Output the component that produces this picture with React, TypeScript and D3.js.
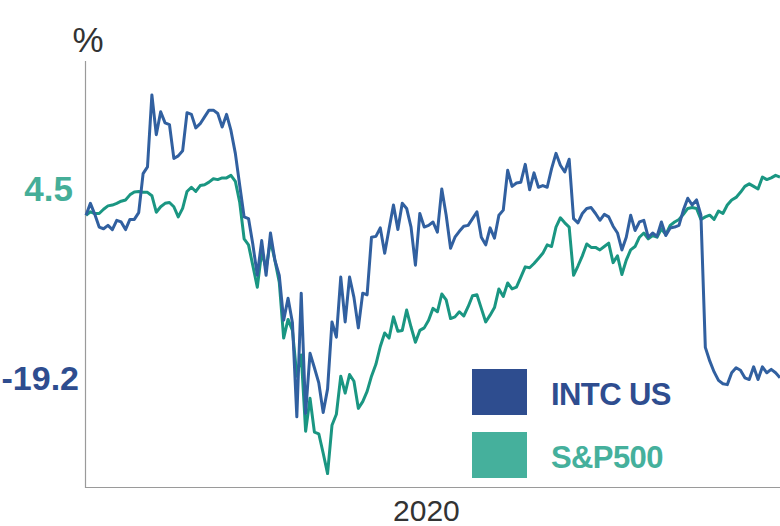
import React, { useRef, useEffect } from 'react';
import * as d3 from 'd3';

// daily % change since first trading day of 2020
const intcPct = [
  0.0, 1.4, 0.1, -1.4, -1.6, -1.2, -1.7, -0.6, -0.8, -1.7,
  -0.5, -0.5, 0.3, 4.9, 5.7, 14.2, 9.5, 12.2, 10.9, 10.7,
  6.7, 7.0, 7.6, 12.1, 11.9, 10.3, 10.8, 11.6, 12.4, 12.4,
  12.0, 10.4, 11.9, 10.0, 7.3, 3.5, -0.2, -0.4, -3.5, -7.1,
  -3.0, -7.1, -2.1, -5.3, -7.1, -12.4, -9.8, -12.7, -23.8, -9.2,
  -23.4, -16.3, -18.0, -19.8, -23.3, -20.5, -12.6, -14.4, -7.3, -12.6,
  -7.3, -9.7, -13.3, -9.2, -9.4, -2.6, -2.5, -1.5, -4.5, -1.6,
  1.2, -1.7, 1.4, 0.8, -1.4, -5.9, 0.2, -1.4, -1.2, -0.8,
  -2.0, 3.1, 0.0, -3.9, -2.6, -1.9, -1.3, -1.2, -0.4, 0.4,
  -2.6, -3.5, -1.5, -2.7, 0.0, 0.6, 5.3, 3.4, 3.8, 3.9,
  6.0, 3.0, 5.0, 3.3, 3.5, 3.3, 5.5, 7.3, 5.9, 5.1,
  6.6, -0.4, -0.9, 0.2, 0.8, 0.9, 0.2, -0.6, 0.1, -0.2,
  -1.3, -2.1, -4.1, -2.6, 0.0, -1.8, -0.8, -0.6, -2.6, -2.1,
  -2.5, -0.8, -2.4, -1.5, -1.4, -1.2, 0.6, 2.0, 1.2, 1.8,
  0.0, -15.6, -17.2, -18.5, -19.5, -19.9, -20.0, -18.6, -18.0, -18.3,
  -19.2, -19.4, -17.9, -19.4, -17.9, -18.6, -18.2, -18.6, -19.2,
];

const spxPct = [
  0.0, 0.4, 0.2, 0.2, 0.7, 1.1, 1.2, 1.4, 1.65, 1.8,
  2.4, 2.75, 2.8, 2.7, 2.7, 2.3, 0.35, 1.0, 1.4, 1.5,
  1.0, -0.2, 0.8, 2.8, 3.3, 2.8, 3.5, 3.6, 3.9, 4.3,
  4.2, 4.4, 4.4, 4.7, 4.0, 1.5, -2.8, -3.5, -6.0, -8.5,
  -4.3, -6.3, -3.0, -5.3, -7.9, -14.5, -12.3, -13.6, -19.0, -16.5,
  -25.5, -21.6, -25.6, -25.8, -28.1, -30.5, -24.8, -23.5, -19.0, -21.0,
  -18.8, -19.6, -22.8, -22.0, -20.8, -19.0, -17.6, -15.5, -13.9, -14.5,
  -12.0, -13.7, -13.6, -11.2, -13.2, -15.0, -13.6, -13.3, -12.4, -11.0,
  -11.4, -9.3, -10.0, -12.2, -12.0, -11.4, -11.9, -10.8, -9.5, -9.4,
  -11.0, -12.6, -11.8, -10.9, -8.7, -9.6, -8.0, -8.7, -8.5, -7.3,
  -6.1, -6.2, -5.7, -5.1, -4.5, -3.5, -3.7, -1.4, -0.3, -0.9,
  -1.4, -7.1, -6.0, -4.8, -3.4, -3.8, -3.8, -4.1, -3.7, -3.3,
  -5.6, -4.8, -7.0, -5.3, -4.1, -3.7, -2.6, -2.1, -2.8, -2.4,
  -2.6, -1.6, -2.3, -1.2, -0.8, -0.5, 0.1, 0.8, 0.9, 0.8,
  -0.5, -0.2, 0.0, -0.5, 0.5, 0.2, 1.2, 1.8, 2.1, 2.7,
  3.4, 3.7, 3.4, 3.1, 4.5, 4.2, 4.4, 4.7, 4.5,
];

const seriesNames = ['INTC US', 'S&P500'];
const lineColors = ['#3160a0', '#1a9682'];
const labelColors = ['#2e4d8f', '#45ae98'];
const xTickLabel = '2020';
const xTickDay = 77.5;

const App = () => {
  const svgRef = useRef(null);

  useEffect(() => {
    const svg = d3.select(svgRef.current);
    svg.selectAll('*').remove();

    const width = 780;
    const left = 86;
    const top = 61;
    const bottom = 488;
    const font = '"Liberation Sans", Arial, Helvetica, sans-serif';

    const x = d3.scaleLinear().domain([0, intcPct.length - 1]).range([left, width]);
    const y = d3.scaleLinear().domain([-32.2, 18.2]).range([bottom, top]);

    // axes (just the lines)
    svg.append('line')
      .attr('x1', left - 0.5).attr('x2', left - 0.5)
      .attr('y1', top).attr('y2', bottom)
      .attr('stroke', '#9a9a9a').attr('stroke-width', 1.2);
    svg.append('line')
      .attr('x1', left - 1).attr('x2', width)
      .attr('y1', bottom - 0.5).attr('y2', bottom - 0.5)
      .attr('stroke', '#9a9a9a').attr('stroke-width', 1.2);

    svg.append('text')
      .attr('x', left + 2).attr('y', 52)
      .attr('text-anchor', 'middle')
      .attr('font-family', font).attr('font-size', 35)
      .attr('fill', '#333')
      .text('%');

    svg.append('text')
      .attr('x', x(xTickDay)).attr('y', 521)
      .attr('text-anchor', 'middle')
      .attr('font-family', font).attr('font-size', 30)
      .attr('fill', '#333')
      .text(xTickLabel);

    const line = d3.line<number>()
      .x((d, i) => x(i))
      .y(d => y(d))
      .curve(d3.curveLinear);

    const series = [intcPct, spxPct];
    // S&P first, INTC on top
    [1, 0].forEach(k => {
      svg.append('path')
        .datum(series[k])
        .attr('d', line)
        .attr('fill', 'none')
        .attr('stroke', lineColors[k])
        .attr('stroke-width', 3)
        .attr('stroke-linejoin', 'round');
    });

    // last values as labels left of the axis
    const lastIntc = intcPct[intcPct.length - 1];
    const lastSpx = spxPct[spxPct.length - 1];
    svg.append('text')
      .attr('x', 73).attr('y', y(lastSpx) + 11)
      .attr('dy', '0.36em')
      .attr('text-anchor', 'end')
      .attr('font-family', font).attr('font-size', 35).attr('font-weight', 'bold')
      .attr('fill', labelColors[1])
      .text(d3.format('.1f')(lastSpx));
    svg.append('text')
      .attr('x', 79).attr('y', y(lastIntc))
      .attr('dy', '0.36em')
      .attr('text-anchor', 'end')
      .attr('font-family', font).attr('font-size', 34).attr('font-weight', 'bold')
      .attr('fill', labelColors[0])
      .text(d3.format('.1f')(lastIntc).replace('\u2212', '-'));

    // legend
    const legend = svg.append('g').attr('transform', 'translate(472,369)');
    seriesNames.forEach((name, i) => {
      legend.append('rect')
        .attr('x', 0).attr('y', i * 63)
        .attr('width', 55).attr('height', 46)
        .attr('fill', i === 0 ? '#2e4d8f' : '#45b09c');
      legend.append('text')
        .attr('x', 79).attr('y', i * 63 + 36)
        .attr('font-family', font).attr('font-size', 31).attr('font-weight', 'bold')
        .attr('letter-spacing', -0.6)
        .attr('fill', i === 0 ? '#2e4d8f' : '#45b09c')
        .text(name);
    });
  }, []);

  return (
    <svg
      ref={svgRef}
      width={780}
      height={526}
      style={{ position: 'absolute', left: 0, top: 0, background: '#fff' }}
    />
  );
};

export default App;
